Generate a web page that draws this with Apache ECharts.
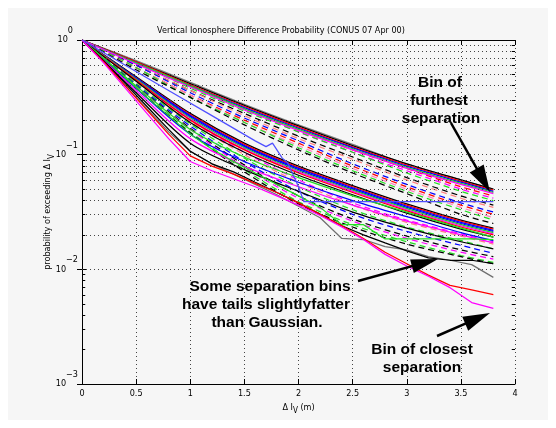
<!DOCTYPE html>
<html><head><meta charset="utf-8">
<script src="https://cdn.jsdelivr.net/npm/echarts@6/dist/echarts.min.js"></script>
<style>html,body{margin:0;padding:0;background:#fff}#c{width:556px;height:428px}</style>
</head><body><div id="c"></div>
<script>
// ---------- data ----------
const xTickValues = [0, 0.5, 1, 1.5, 2, 2.5, 3, 3.5, 4];
const yTickExponents = { '1': '0', '0.1': '−1', '0.01': '−2', '0.001': '−3' };
const yMinorGrid = [0.002,0.003,0.004,0.005,0.006,0.007,0.008,0.009,
                    0.02,0.03,0.04,0.05,0.06,0.07,0.08,0.09,
                    0.2,0.3,0.4,0.5,0.6,0.7,0.8,0.9];

const xCoarse = [0, 0.5, 1, 1.5, 2, 2.5, 3, 3.5, 3.8];
const xFine = [0,0.2,0.4,0.6,0.8,1.0,1.2,1.4,1.6,1.8,2.0,2.2,2.4,2.6,2.8,3.0,3.2,3.4,3.6,3.8];
const xBlueFlat = [0,0.4,0.8,1.2,1.6,1.7,1.76,1.85,1.9,2.0,2.05,2.5,3.0,3.5,3.8];

// top solid group (furthest separation bin)
const topSolid = [
  [1,.661,.427,.275,.182,.123,.0832,.0603,.0501],
  [1,.646,.417,.269,.178,.120,.0832,.0603,.0501],
  [1,.646,.407,.263,.174,.117,.0813,.0589,.0490],
  [1,.631,.398,.257,.170,.115,.0794,.0575,.0479],
  [1,.631,.398,.251,.166,.112,.0776,.0562,.0468],
  [1,.617,.389,.245,.162,.110,.0759,.0550,.0457]
];
// upper dashed group
const upperDashed = [
  [1,.631,.398,.251,.166,.110,.0759,.0525,.0437],
  [1,.631,.398,.251,.158,.105,.0724,.0501,.0417],
  [1,.631,.380,.240,.158,.105,.0692,.0479,.0398],
  [1,.603,.363,.229,.145,.0955,.0631,.0437,.0363],
  [1,.603,.363,.219,.138,.0912,.0603,.0417,.0347],
  [1,.603,.347,.209,.132,.0832,.0550,.0380,.0316],
  [1,.575,.331,.200,.126,.0794,.0525,.0363,.0302],
  [1,.575,.331,.191,.120,.0759,.0501,.0347,.0282],
  [1,.575,.316,.191,.115,.0724,.0479,.0331,.0269],
  [1,.550,.316,.182,.110,.0692,.0457,.0302,.0251]
];
// middle solid group
const midSolid = [
  [1,.479,.229,.126,.0794,.0537,.0372,.0269,.0229],
  [1,.468,.224,.123,.0776,.0525,.0363,.0263,.0224],
  [1,.468,.219,.120,.0759,.0513,.0355,.0257,.0219],
  [1,.457,.214,.1175,.0741,.0501,.0347,.0251,.0214],
  [1,.457,.209,.115,.0724,.0490,.0339,.0245,.0209],
  [1,.447,.204,.112,.0708,.0479,.0331,.0240,.0204],
  [1,.447,.200,.110,.0692,.0468,.0324,.0234,.0200],
  [1,.437,.191,.105,.0661,.0447,.0309,.0224,.0191]
];
// lower-middle solid lines
const lowMidSolid = [
  [1,.398,.166,.0955,.0631,.0437,.0316,.0229,.0191],
  [1,.380,.151,.0871,.0575,.0398,.0288,.0209,.0178],
  [1,.363,.138,.0794,.0525,.0363,.0263,.0200,.0170],
  [1,.347,.126,.0741,.0479,.0316,.0229,.0174,.0151]
];
// lower dashed group
const lowerDashed = [
  [1,.437,.200,.105,.0603,.0380,.0269,.0204,.0174],
  [1,.427,.195,.100,.0575,.0363,.0257,.0195,.0166],
  [1,.417,.186,.0933,.0525,.0331,.0234,.0178,.0151],
  [1,.407,.178,.0871,.0479,.0302,.0214,.0162,.0138],
  [1,.398,.170,.0813,.0437,.0275,.0195,.0148,.0129],
  [1,.389,.166,.0776,.0417,.0263,.0186,.0141,.0123],
  [1,.380,.158,.0741,.0389,.0245,.0174,.0132,.0115],
  [1,.380,.155,.0708,.0372,.0234,.0166,.0129,.0112]
];
// tail lines (fine x)
const tailGray    = [1,.661,.398,.251,.158,.107,.0832,.0676,.0550,.0447,.0355,.0282,.0186,.0182,.0158,.0148,.0129,.0120,.0110,.00851];
const tailBlack   = [1,.661,.417,.263,.166,.107,.0832,.0708,.0575,.0468,.0380,.0302,.0240,.0200,.0170,.0145,.0126,.0120,.0120,.0112];
const tailRed     = [1,.646,.398,.245,.151,.0977,.0794,.0676,.0562,.0468,.0380,.0302,.0240,.0186,.0141,.0112,.00891,.00724,.00661,.00603];
const tailMagenta = [1,.631,.380,.229,.138,.0871,.0724,.0617,.0525,.0437,.0363,.0295,.0234,.0182,.0135,.0107,.00871,.00692,.00513,.00457];
const tailGreen   = [1,.692,.468,.316,.219,.151,.112,.0871,.0692,.0550,.0437,.0347,.0245,.0245,.0184,.0184,.0184,.0184,.0184,.0182];
const blueFlat    = [1,.603,.363,.219,.132,.1175,.126,.0933,.0851,.0525,.0389,.0389,.0389,.0389,.0389];

// ---------- styles ----------
const topSolidColors   = ['#808080','#000000','#ff0000','#0000ff','#22dd22','#ff00ff'];
const upperDashedColors= ['#ff0000','#ff00ff','#22dd22','#000000','#ff8080','#0000ff','#ff0000','#ff80c0','#22dd22','#000000'];
const midSolidColors   = ['#000000','#ff0000','#0000ff','#0000ff','#22dd22','#ff00ff','#ff0000','#000000'];
const lowMidColors     = ['#22dd22','#0000ff','#ff00ff','#000000'];
const lowerDashedColors= ['#ff00ff','#ff8080','#22dd22','#0000ff','#000000','#ff00ff','#22dd22','#000000'];

const FONT = '"Liberation Sans Narrow","Arial Narrow","DejaVu Sans Condensed","Liberation Sans",Arial,sans-serif';
const BOLD = '"Liberation Sans",Arial,Helvetica,sans-serif';
const LW = 1.25;

function line(xs, vals, color, dashed, z, smooth) {
  return {
    type: 'line', data: xs.map((x, j) => [x, vals[j]]), showSymbol: false, symbol: 'none',
    silent: true, animation: false, z: z, clip: true,
    smooth: smooth ? 0.3 : false,
    lineStyle: { color: color, width: LW, type: dashed ? [6, 4] : 'solid' }
  };
}
const series = [];
upperDashed.forEach((v, i) => series.push(line(xCoarse, v, upperDashedColors[i], true, 3, true)));
lowerDashed.forEach((v, i) => series.push(line(xCoarse, v, lowerDashedColors[i], true, 3, true)));
topSolid.forEach((v, i) => series.push(line(xCoarse, v, topSolidColors[i], false, 4, true)));
midSolid.forEach((v, i) => series.push(line(xCoarse, v, midSolidColors[i], false, 4, true)));
lowMidSolid.forEach((v, i) => series.push(line(xCoarse, v, lowMidColors[i], false, 4, true)));
series.push(line(xFine, tailGreen, '#22dd22', false, 5, false));
series.push(line(xFine, tailGray, '#707070', false, 5, false));
series.push(line(xFine, tailBlack, '#000000', false, 5, false));
series.push(line(xFine, tailRed, '#ff0000', false, 5, false));
series.push(line(xFine, tailMagenta, '#ff00ff', false, 5, false));
series.push(line(xBlueFlat, blueFlat, '#5050ff', false, 5, false));

// grid + minor ticks through the axes
const minorGridData = yMinorGrid.map(v => ({ yAxis: v }));
const minorTickData = [];
yMinorGrid.forEach(v => {
  minorTickData.push([{ coord: [0, v] }, { coord: [0.03, v] }]);
  minorTickData.push([{ coord: [3.97, v] }, { coord: [4, v] }]);
});
series.push({
  type: 'line', data: [], silent: true, animation: false, z: 1,
  markLine: { silent: true, symbol: ['none', 'none'], label: { show: false }, animation: false,
    lineStyle: { color: '#444', width: 1, type: [1, 3] }, data: minorGridData }
});
series.push({
  type: 'line', data: [], silent: true, animation: false, z: 6,
  markLine: { silent: true, symbol: ['none', 'none'], label: { show: false }, animation: false,
    lineStyle: { color: '#000', width: 1, type: 'solid' }, data: minorTickData }
});

function arrow(x0, y0, x1, y1, len, hw) {
  const dx = x1 - x0, dy = y1 - y0, d = Math.hypot(dx, dy), ux = dx / d, uy = dy / d;
  const bx = x1 - ux * len, by = y1 - uy * len;
  return [
    { type: 'line', shape: { x1: x0, y1: y0, x2: bx + ux * 2, y2: by + uy * 2 }, style: { stroke: '#000', lineWidth: 2.5 }, z: 50 },
    { type: 'polygon', shape: { points: [[x1, y1], [bx - uy * hw, by + ux * hw], [bx + uy * hw, by - ux * hw]] }, style: { fill: '#000' }, z: 50 }
  ];
}
function label(text, x, y) {
  return { type: 'text', z: 50, style: { text: text, x: x, y: y, align: 'center', verticalAlign: 'middle',
    fontSize: 15.5, fontWeight: 'bold', fontFamily: BOLD, fill: '#000' } };
}

const chart = echarts.init(document.getElementById('c'), null, { renderer: 'canvas' });
chart.setOption({
  backgroundColor: '#ffffff',
  animation: false,
  grid: { left: 82, top: 40, right: 41, bottom: 44, show: false },
  xAxis: [
    { type: 'value', min: 0, max: 4, interval: 0.5, position: 'bottom',
      axisLine: { show: true, lineStyle: { color: '#000', width: 1 } },
      axisTick: { show: true, inside: true, length: 5, lineStyle: { color: '#000' } },
      axisLabel: { show: true, color: '#000', fontSize: 9, fontFamily: FONT, margin: 5 },
      splitLine: { show: true, lineStyle: { color: '#444', width: 1, type: [1, 3] } },
      name: '{a|Δ I}{s|V}{a| (m)}', nameLocation: 'middle', nameGap: 14,
      nameTextStyle: { rich: { a: { fontSize: 9, fontFamily: FONT, color: '#000' },
                               s: { fontSize: 8, fontFamily: FONT, color: '#000', padding: [8, 0, 0, 0] } } } },
    { type: 'value', min: 0, max: 4, interval: 0.5, position: 'top',
      axisLine: { show: true, lineStyle: { color: '#000', width: 1 } },
      axisTick: { show: true, inside: true, length: 5, lineStyle: { color: '#000' } },
      axisLabel: { show: false }, splitLine: { show: false } }
  ],
  yAxis: [
    { type: 'log', logBase: 10, min: 0.001, max: 1, position: 'left',
      axisLine: { show: true, lineStyle: { color: '#000', width: 1 } },
      axisTick: { show: true, inside: true, length: 5, lineStyle: { color: '#000' } },
      axisLabel: { show: true, margin: 4, color: '#000',
        formatter: v => {
          const e = yTickExponents[String(+v.toPrecision(3))] || '';
          return '{b|10}' + (e === '0' ? '{e0|0}' : '{e|' + e + '}');
        },
        rich: { b: { fontSize: 9, fontFamily: FONT, color: '#000' },
                e0: { fontSize: 9, fontFamily: FONT, color: '#000', padding: [0, 5, 19, 0] },
                e: { fontSize: 9, fontFamily: FONT, color: '#000', padding: [0, 0, 19, 0] } } },
      splitLine: { show: true, lineStyle: { color: '#444', width: 1, type: [1, 3] } },
      name: 'probability of exceeding Δ I{s|V}', nameLocation: 'middle', nameGap: 26, nameMoveOverlap: false,
      nameTextStyle: { fontSize: 9, fontFamily: FONT, color: '#000',
        rich: { s: { fontSize: 8, fontFamily: FONT, color: '#000', padding: [8, 0, 0, 0] } } } },
    { type: 'log', logBase: 10, min: 0.001, max: 1, position: 'right',
      axisLine: { show: true, lineStyle: { color: '#000', width: 1 } },
      axisTick: { show: true, inside: true, length: 5, lineStyle: { color: '#000' } },
      axisLabel: { show: false }, splitLine: { show: false } }
  ],
  graphic: [
    { type: 'rect', z: -100, shape: { x: 8, y: 8, width: 540, height: 412 }, style: { fill: '#f6f6f6' } },
    { type: 'text', z: 50, style: { text: 'Vertical Ionosphere Difference Probability (CONUS 07 Apr 00)', x: 281, y: 31,
        align: 'center', verticalAlign: 'middle', fontSize: 9, fontFamily: FONT, fill: '#000' } },
    label('Bin of', 440, 83), label('furthest', 439, 101), label('separation', 441, 119),
    label('Some separation bins', 270, 287), label('have tails slightlyfatter', 266, 305), label('than Gaussian.', 267, 323),
    label('Bin of closest', 422, 350), label('separation', 422, 368),
    ...arrow(451, 123, 490, 192, 27, 8),
    ...arrow(358, 281, 438, 259, 27, 7),
    ...arrow(437, 336, 490, 313, 27, 7.5)
  ],
  series: series
});
</script></body></html>
